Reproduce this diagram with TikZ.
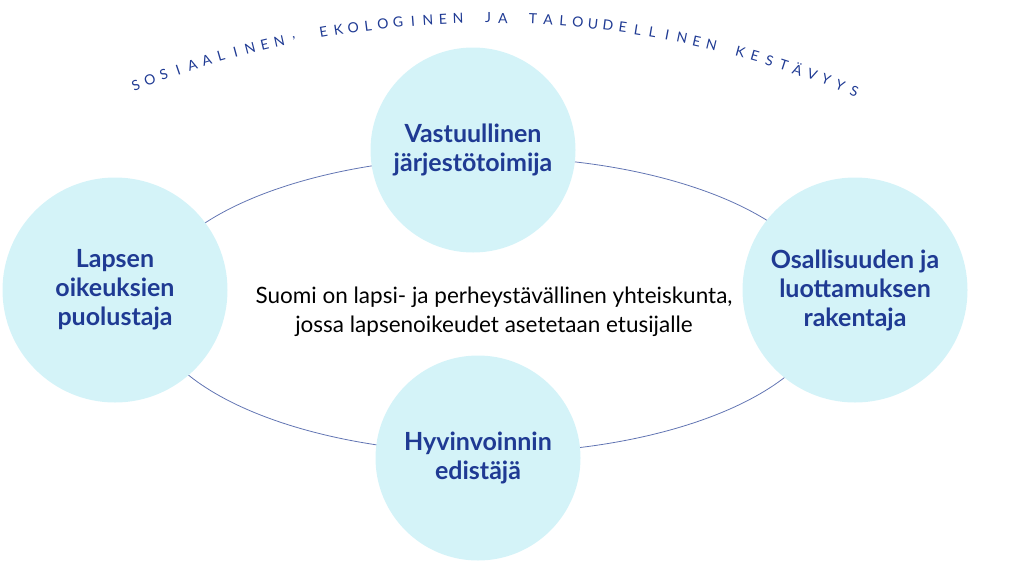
\documentclass[tikz,border=0pt]{standalone}
\usepackage{fontspec}
\setmainfont{Lato}
\usetikzlibrary{positioning,calc}
\definecolor{blobfill}{HTML}{D4F3F8}
\definecolor{navy}{HTML}{1F3A93}
\tikzset{
  blob/.style = {circle, fill=blobfill, text=navy, align=center, inner sep=0pt,
    font=\fontsize{25}{29}\selectfont\bfseries},
  ring/.style = {draw=navy!70, line width=0.8pt}
}
\begin{document}
\begin{tikzpicture}[x=1pt, y=-1pt]
    \useasboundingbox (0,0) rectangle (1024,576);
    \draw[ring] (488,305) ellipse [x radius=340, y radius=148];

    \node[blob, minimum size=205pt] (T) at (473,150) {Vastuullinen\\järjestötoimija};
    \node[blob, minimum size=225pt] (L) at (115,290) {Lapsen\\oikeuksien\\puolustaja};
    \node[blob, minimum size=225pt] (R) at (855,290) {Osallisuuden ja\\luottamuksen\\rakentaja};
    \node[blob, minimum size=205pt] (B) at (478,458) {Hyvinvoinnin\\edistäjä};

    \node[align=center, font=\fontsize{22.5}{29}\selectfont] (C) at (494,312)
        {Suomi on lapsi- ja perheystävällinen yhteiskunta,\\jossa lapsenoikeudet asetetaan etusijalle};

    % arc title
    \coordinate (O) at (488,975);
    \foreach \c [count=\i] in {S,O,S,I,A,A,L,I,N,E,N,{,},{},E,K,O,L,O,G,I,N,E,N,{},J,A,{},T,A,L,O,U,D,E,L,L,I,N,E,N,{},K,E,S,T,Ä,V,Y,Y,S}
        \node[text=navy, font=\fontsize{14}{14}\selectfont, inner sep=0pt, rotate={21.6-(\i-1)*0.9}]
            at ($(O)+({-111.6+(\i-1)*0.9}:957)$) {\c};
\end{tikzpicture}
\end{document}
